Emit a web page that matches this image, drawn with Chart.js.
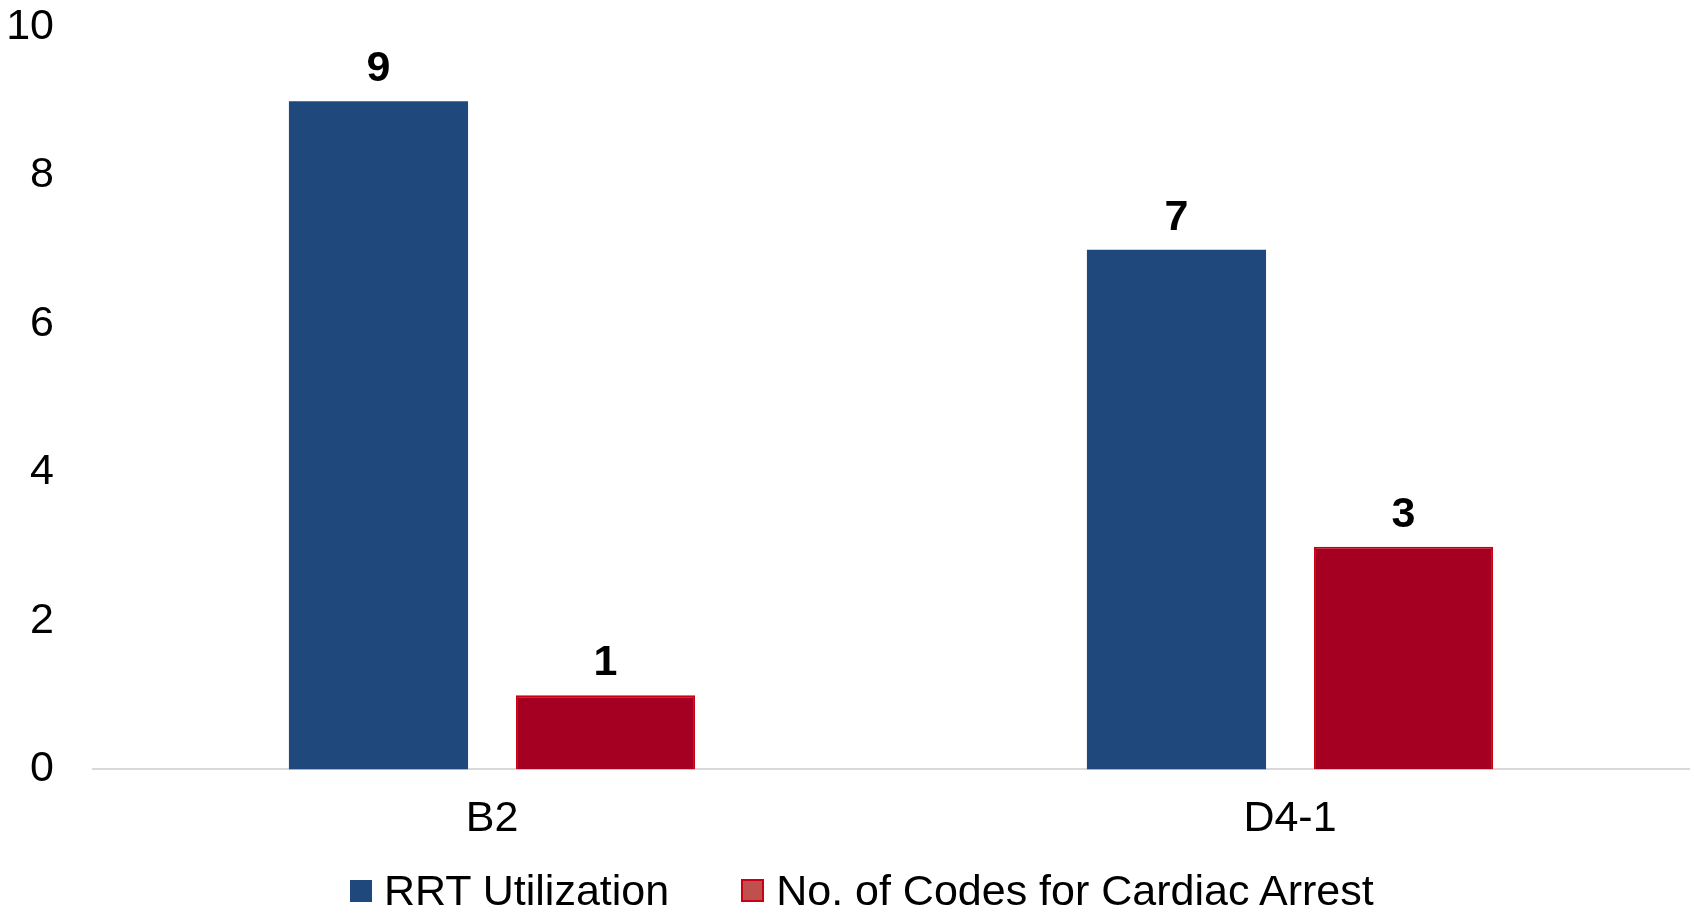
<!DOCTYPE html>
<html>
<head>
<meta charset="utf-8">
<script src="https://cdn.jsdelivr.net/npm/chart.js@4.4.1/dist/chart.umd.min.js"></script>
<style>
  html, body { margin: 0; padding: 0; background: #fff; }
  #wrap { position: relative; width: 1694px; height: 913px; }
  #legend {
    position: absolute; left: 350px; top: 869px; height: 43px;
    display: flex; align-items: center;
    font-family: 'Liberation Sans', Arial, sans-serif; font-size: 43px; color: #000;
    white-space: nowrap;
  }
  .lg-item { display: flex; align-items: center; }
  .lg-item + .lg-item { margin-left: 72px; }
  .lg-box { width: 22px; height: 22px; margin-right: 12px; box-sizing: border-box; }
</style>
</head>
<body>
<div id="wrap">
  <canvas id="chart"></canvas>
  <div id="legend"></div>
</div>
<script>
const categories = ['B2', 'D4-1'];
const rrtUtilization = [9, 7];
const cardiacArrestCodes = [1, 3];
const seriesNames = ['RRT Utilization', 'No. of Codes for Cardiac Arrest'];
const yMax = 10;
const yStep = 2;

const FONT = "'Liberation Sans', Arial, sans-serif";
Chart.defaults.font.family = FONT;
Chart.defaults.font.size = 43;
Chart.defaults.color = '#000';

const COLORS = {
  blue: '#1F497D',
  red: '#A50021',
  redEdge: '#CC0014',
  redLegend: '#C0504D',
};

// value labels above each bar
const barValueLabels = {
  id: 'barValueLabels',
  afterDatasetsDraw(chart) {
    const ctx = chart.ctx;
    ctx.save();
    ctx.font = "bold 43px " + FONT;
    ctx.fillStyle = '#000';
    ctx.textAlign = 'center';
    ctx.textBaseline = 'alphabetic';
    chart.data.datasets.forEach((ds, i) => {
      chart.getDatasetMeta(i).data.forEach((bar, j) => {
        ctx.fillText(String(ds.data[j]), bar.x, bar.y - 20);
      });
    });
    ctx.restore();
  }
};

const chart = new Chart(document.getElementById('chart'), {
  type: 'bar',
  data: {
    labels: categories,
    datasets: [
      {
        label: seriesNames[0],
        data: rrtUtilization,
        backgroundColor: COLORS.blue,
        borderWidth: 0,
        categoryPercentage: 0.569,
        barPercentage: 0.789,
      },
      {
        label: seriesNames[1],
        data: cardiacArrestCodes,
        backgroundColor: COLORS.red,
        borderColor: COLORS.redEdge,
        borderWidth: 2,
        categoryPercentage: 0.569,
        barPercentage: 0.789,
      }
    ]
  },
  options: {
    responsive: true,
    maintainAspectRatio: false,
    animation: false,
    layout: { padding: { left: 0, right: 5, top: 0, bottom: 44 } },
    plugins: {
      legend: { display: false },
      tooltip: { enabled: false }
    },
    scales: {
      x: {
        grid: { display: false, drawTicks: false },
        border: { display: true, color: '#D9D9D9', width: 2 },
        ticks: { padding: 24, color: '#000' }
      },
      y: {
        min: 0,
        max: yMax,
        grid: { display: false, drawTicks: false },
        border: { display: false },
        ticks: { stepSize: yStep, padding: 39, color: '#000' },
        afterFit(scale) {
          scale.width = 93;
          // keep only half a label of room above the top tick
          scale.paddingTop = 27;
          scale.paddingBottom = 24;
        }
      }
    }
  },
  plugins: [barValueLabels]
});

// legend built from the chart's datasets
const legendEl = document.getElementById('legend');
chart.data.datasets.forEach((ds, i) => {
  const item = document.createElement('div');
  item.className = 'lg-item';
  const box = document.createElement('span');
  box.className = 'lg-box';
  if (i === 0) {
    box.style.background = ds.backgroundColor;
  } else {
    box.style.background = COLORS.redLegend;
    box.style.border = '2px solid ' + COLORS.redEdge;
    box.style.width = '23px';
    box.style.height = '23px';
  }
  const txt = document.createElement('span');
  txt.textContent = ds.label;
  item.appendChild(box);
  item.appendChild(txt);
  legendEl.appendChild(item);
});
</script>
</body>
</html>
